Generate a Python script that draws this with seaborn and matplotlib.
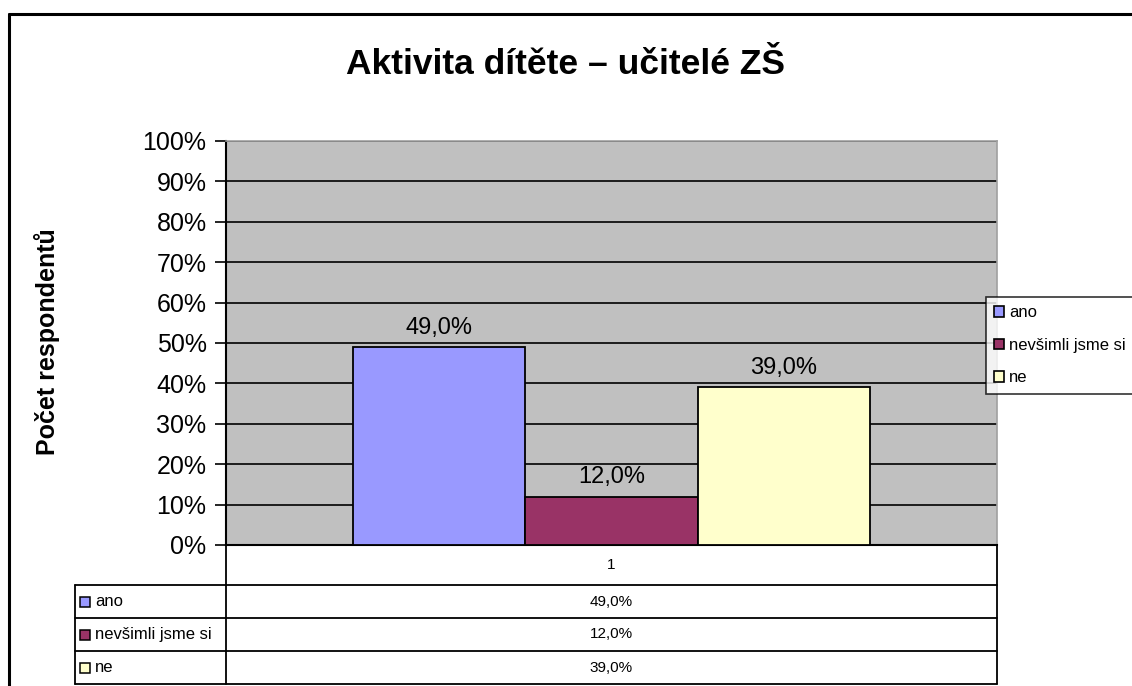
import matplotlib
matplotlib.use("Agg")
import matplotlib.pyplot as plt
import seaborn as sns
import pandas as pd
from matplotlib.lines import Line2D
from matplotlib.patches import Rectangle
from matplotlib.ticker import PercentFormatter

# ---- data ----
categories = ["1"]
series = ["ano", "nevšimli jsme si", "ne"]
values = [49.0, 12.0, 39.0]
colors = ["#9999FF", "#993366", "#FFFFCC"]
title = "Aktivita dítěte – učitelé ZŠ"
ylabel = "Počet respondentů"
yticks = list(range(0, 101, 10))

sns.set_theme(style="white")
plt.rcParams["font.family"] = ["Liberation Sans", "DejaVu Sans"]
plt.rcParams["text.color"] = "black"
plt.rcParams["axes.labelcolor"] = "black"
plt.rcParams["xtick.color"] = "black"
plt.rcParams["ytick.color"] = "black"

W, H = 1132, 686
fig = plt.figure(figsize=(W / 100, H / 100), dpi=100)
fig.patch.set_facecolor("white")

def fx(x):
    return x / W

def fy(y):
    return 1 - y / H

L, R, T, B = 226, 997, 141, 545
ax = fig.add_axes([fx(L), fy(B), fx(R) - fx(L), fy(T) - fy(B)])
ax.set_facecolor("#C0C0C0")

df = pd.DataFrame({"cat": categories * len(series), "series": series, "val": values})
sns.barplot(data=df, x="cat", y="val", hue="series", hue_order=series,
            palette=colors, width=0.67, edgecolor="black", linewidth=1.3,
            saturation=1, legend=False, ax=ax, zorder=3)

ax.set_xlim(-0.5, 0.5)
ax.set_ylim(0, 100)
ax.set_yticks(yticks)
ax.yaxis.set_major_formatter(PercentFormatter(decimals=0))
ax.grid(axis="y", color="black", linewidth=1.2, zorder=0)
ax.set_axisbelow(True)
ax.set_xticks([])
ax.set_xlabel("")
ax.set_ylabel("")
ax.tick_params(axis="y", direction="out", length=8, width=1.2, color="black",
               labelcolor="black", labelsize=18, pad=6, left=True)
for s in ["top", "right"]:
    ax.spines[s].set_color("#A0A0A0")
    ax.spines[s].set_linewidth(1.2)
for s in ["left", "bottom"]:
    ax.spines[s].set_color("black")
    ax.spines[s].set_linewidth(1.5)

for cont in ax.containers:
    ax.bar_label(cont, labels=[f"{v:.1f}".replace(".", ",") + "%" for v in cont.datavalues],
                 padding=6, fontsize=17, color="black")

# title and y label
fig.text(fx(566), fy(64), title, ha="center", va="center", fontsize=25.5,
         fontweight="bold", color="black")
fig.text(fx(47), fy(342), ylabel, ha="center", va="center", rotation=90,
         fontsize=18, fontweight="bold", color="black")

# legend
handles = [Rectangle((0, 0), 1, 1, facecolor=c, edgecolor="black", linewidth=1.2) for c in colors]
leg = fig.legend(handles, series, loc="upper left", bbox_to_anchor=(fx(986), fy(297)),
                 frameon=True, fontsize=12, handlelength=0.6, handleheight=0.6,
                 handletextpad=0.3, borderpad=0.5, labelspacing=1.05, borderaxespad=0,
                 fancybox=False)
leg.get_frame().set_edgecolor("black")
leg.get_frame().set_linewidth(1.2)
for t in leg.get_texts():
    t.set_color("black")

# outer chart frame
fig.add_artist(Line2D([fx(9), fx(9)], [fy(14), fy(H + 5)], color="black", lw=2.2))
fig.add_artist(Line2D([fx(9), fx(W + 5)], [fy(14), fy(14)], color="black", lw=2.2))

# data table
rows_y = [585, 618, 651, 684]
lw = 1.3
for y in rows_y:
    fig.add_artist(Line2D([fx(75), fx(R)], [fy(y), fy(y)], color="black", lw=lw))
fig.add_artist(Line2D([fx(75), fx(75)], [fy(585), fy(684)], color="black", lw=lw))
fig.add_artist(Line2D([fx(L), fx(L)], [fy(B), fy(684)], color="black", lw=lw))
fig.add_artist(Line2D([fx(R), fx(R)], [fy(B), fy(684)], color="black", lw=lw))

cx = (L + R) / 2
fig.text(fx(cx), fy(565), categories[0], ha="center", va="center", fontsize=11, color="black")
for i, (name, v, c) in enumerate(zip(series, values, colors)):
    ymid = (rows_y[i] + rows_y[i + 1]) / 2
    fig.text(fx(cx), fy(ymid), f"{v:.1f}".replace(".", ",") + "%",
             ha="center", va="center", fontsize=11, color="black")
    fig.add_artist(Rectangle((fx(80), fy(ymid + 5)), fx(10), fy(0) - fy(10),
                             facecolor=c, edgecolor="black", linewidth=1.1,
                             transform=fig.transFigure))
    fig.text(fx(95), fy(ymid), name, ha="left", va="center", fontsize=12, color="black")

fig.savefig("out.png", dpi=100)
